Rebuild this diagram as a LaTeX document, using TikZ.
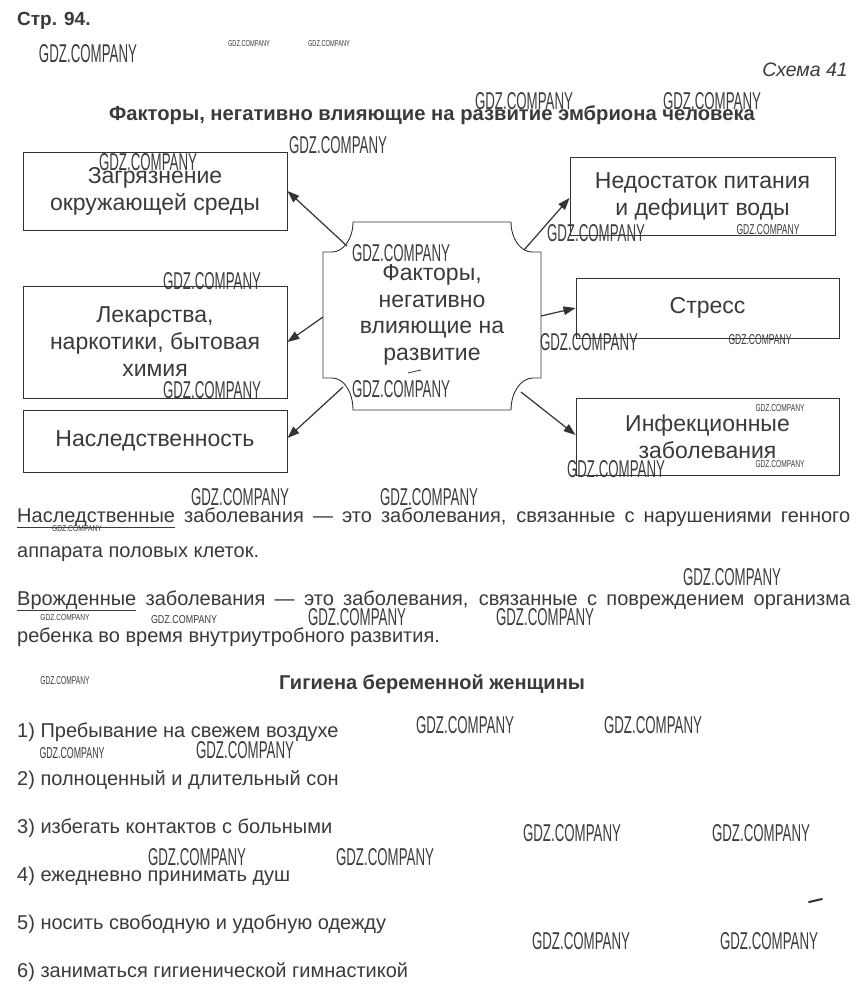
\documentclass[tikz,border=0pt]{standalone}
\usepackage{fontspec}
\setmainfont{Liberation Sans}
\usepackage{graphicx}
\usetikzlibrary{arrows.meta}
\definecolor{ink}{HTML}{333333}
\definecolor{txt}{HTML}{3A3A3A}
\definecolor{wmc}{HTML}{3C3C3C}
\begin{document}
\begin{tikzpicture}[x=1pt,y=-1pt,
  box/.style={draw=ink, line width=0.9pt, text=txt, align=center,
    font=\fontsize{23}{27}\selectfont, inner sep=0pt},
  arr/.style={draw=ink, line width=1.2pt, -{Triangle[length=12pt,width=8.5pt]}},
  para/.style={anchor=base west, text=txt, font=\fontsize{20}{24}\selectfont, inner sep=0pt},
  wm/.style={inner sep=0pt, text=wmc},
  shapeline/.style={draw=ink, line width=0.9pt},
]
\useasboundingbox[fill=white] (0,0) rectangle (863,1000);

% header
\node[anchor=base west, inner sep=0pt, text=txt, font=\fontsize{19}{22}\selectfont\bfseries] (page) at (17,26) {Стр. 94.};
\node[anchor=base east, inner sep=0pt, text=txt, font=\fontsize{19.5}{22}\selectfont\itshape] (scheme) at (848,77) {Схема 41};
\node[anchor=base, inner sep=0pt, text=txt, font=\fontsize{20.2}{23}\selectfont\bfseries] (title) at (432,121) {Факторы, негативно влияющие на развитие эмбриона человека};

% boxes
\node[box, minimum width=264, minimum height=78] (L1) at (155,191) {Загрязнение\\окружающей среды};
\node[box, minimum width=264, minimum height=112] (L2) at (155,342) {Лекарства,\\наркотики, бытовая\\химия};
\node[box, minimum width=264, minimum height=62] (L3) at (155,441) {Наследственность};
\node[box, minimum width=265, minimum height=78] (R1) at (702.5,196) {Недостаток питания\\и дефицит воды};
\node[box, minimum width=263, minimum height=60] (R2) at (707.5,308) {Стресс};
\node[box, minimum width=263, minimum height=77] (R3) at (707.5,436.5) {Инфекционные\\заболевания};

% central shape
\draw[shapeline] (353,222) -- (511,222) .. controls (511,238.6) and (520.4,252) .. (532,252) -- (541,252)
  -- (541,378) -- (533,378) .. controls (520.9,378) and (511,392.3) .. (511,410)
  -- (353,410) .. controls (353,392.3) and (344.1,378) .. (332,378) -- (323,378)
  -- (323,252) -- (332,252) .. controls (343.6,252) and (353,238.6) .. (353,222) -- cycle;
\node[inner sep=0pt, text=txt, align=center, font=\fontsize{23}{26.7}\selectfont] (C) at (432,315) {Факторы,\\негативно\\влияющие на\\развитие};
\draw[ink, line width=0.8pt] (408,373) -- (421,370);

\coordinate (a1) at (347,246);
\coordinate (a2) at (323,317);
\coordinate (a3) at (343,387);
\coordinate (a4) at (524,250);
\coordinate (a5) at (541,316);
\coordinate (a6) at (521,392);

\draw[arr] (a1) -- (L1.east);
\draw[arr] (a2) -- (L2.east);
\draw[arr] (a3) -- ([yshift=3pt]L3.east);
\draw[arr] (a4) -- ([yshift=-2pt]R1.west);
\draw[arr] (a5) -- (R2.west);
\draw[arr] (a6) -- ([yshift=1.5pt]R3.west);

% paragraphs
\node[para] (p1) at (17,522) {\makebox[833pt][s]{\underline{Наследственные} заболевания — это заболевания, связанные с нарушениями генного}};
\node[para] (p2) at (17,557) {аппарата половых клеток.};
\node[para] (p3) at (17,605) {\makebox[833pt][s]{\underline{Врожденные} заболевания — это заболевания, связанные с повреждением организма}};
\node[para] (p4) at (17,642) {ребенка во время внутриутробного развития.};

\node[anchor=base, inner sep=0pt, text=txt, font=\fontsize{20}{24}\selectfont\bfseries] (hyg) at (432,689) {Гигиена беременной женщины};
\node[para] (i1) at (17,737) {1) Пребывание на свежем воздухе};
\node[para] (i2) at (17,785) {2) полноценный и длительный сон};
\node[para] (i3) at (17,833) {3) избегать контактов с больными};
\node[para] (i4) at (17,881) {4) ежедневно принимать душ};
\node[para] (i5) at (17,929) {5) носить свободную и удобную одежду};
\node[para] (i6) at (17,977) {6) заниматься гигиенической гимнастикой};
\draw[ink, line width=2pt, line cap=round] (809,902) .. controls (815,900) .. (822,899);

% watermarks
\foreach \x/\y/\w/\h [count=\i] in {
  88/54/98/18, 249/44/42/6, 329/44/42/6, 524/101/98/17, 712/101/98/17,
  148/162/98/17, 338/145/98/17, 401/253/98/17, 596/233/98/17, 768/230/63/10,
  212/281/98/17, 589/342/98/17, 760/340/63/10, 212/390/98/17, 401/389/98/17,
  780/408/49/7, 780/464/49/7, 616/469/98/17, 240/497/98/17, 429/497/98/17,
  77/529/50/6, 732/577/98/17, 65/618/49/6, 184/620/66/8, 357/617/98/17,
  545/617/98/17, 65/681/49/8, 465/725/98/17, 653/725/98/17, 72/753/65/11,
  245/750/98/17, 572/833/98/17, 761/833/98/17, 197/857/98/17, 385/857/98/17,
  581/941/98/17, 769/941/98/17}
  \node[wm] (w\i) at (\x,\y) {\resizebox{\w pt}{\h pt}{GDZ.COMPANY}};
\end{tikzpicture}
\end{document}
